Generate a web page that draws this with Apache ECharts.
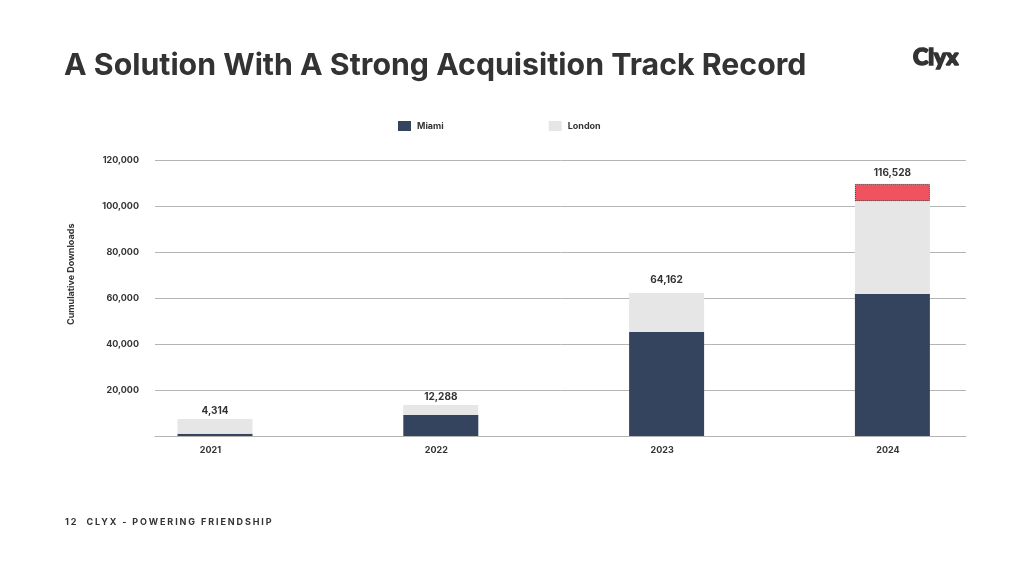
<!DOCTYPE html>
<html>
<head>
<meta charset="utf-8">
<script src="https://cdn.jsdelivr.net/npm/echarts@6/dist/echarts.min.js"></script>
<style>
html,body{margin:0;padding:0;background:#fff}
#chart{width:1024px;height:576px}
#footer{position:absolute;left:65px;top:516px;font:700 9px/12px Inter;color:#333;letter-spacing:1.9px;white-space:pre}
</style>
</head>
<body>
<div id="chart"></div>
<div id="footer">12  CLYX - POWERING FRIENDSHIP</div>
<script>
var years = ['2021', '2022', '2023', '2024'];
var miami = [1000, 9100, 45300, 61800];
var london = [6400, 4400, 17000, 40500];
var extra = [0, 0, 0, 7500];
var totals = ['4,314', '12,288', '64,162', '116,528'];

var font = 'Inter';
var ink = '#333333';
var labelGap = [3, 3, 8, 6];

var chart = echarts.init(document.getElementById('chart'));
chart.setOption({
	animation: false,
	backgroundColor: '#ffffff',
	title: [
		{text: 'A Solution With A Strong Acquisition Track Record', left: 59, top: 46,
			textStyle: {fontFamily: font, fontSize: 30.3, fontWeight: 700, color: ink}},
		{text: 'Clyx', left: 908, top: 41,
			textStyle: {fontFamily: 'Lato', fontSize: 23, fontWeight: 900, color: ink, textBorderColor: ink, textBorderWidth: 1.6}}
	],
	legend: {
		data: ['Miami', 'London'],
		left: 393, top: 116,
		icon: 'rect',
		itemWidth: 13, itemHeight: 10, itemGap: 105,
		textStyle: {fontFamily: font, fontSize: 9, fontWeight: 700, color: ink, padding: [0, 0, 0, 1]}
	},
	grid: [
		// bars sit wider than the ruled lines, so they get their own grid
		{left: 102.1, width: 903.2, top: 160.5, height: 275.5},
		{left: 155, width: 811, top: 160.5, height: 275.5}
	],
	xAxis: [
		{type: 'category', gridIndex: 0, data: years,
			axisLine: {show: false}, axisTick: {show: false},
			axisLabel: {fontFamily: font, fontSize: 9, fontWeight: 700, color: ink, margin: 10, padding: [0, 9, 0, 0]}},
		{type: 'value', gridIndex: 1, min: 0, max: 1, show: true,
			splitLine: {show: false}, axisTick: {show: false}, axisLabel: {show: false},
			axisLine: {show: true, lineStyle: {color: '#b5b5b5', width: 1}}}
	],
	yAxis: [
		{type: 'value', gridIndex: 0, min: 0, max: 120000, interval: 20000, show: false},
		{type: 'value', gridIndex: 1, min: 0, max: 120000, interval: 20000,
			name: 'Cumulative Downloads', nameLocation: 'middle', nameGap: 79,
			nameTextStyle: {fontFamily: font, fontSize: 9, fontWeight: 700, color: ink, padding: [0, 0, 0, 48]},
			axisLine: {show: false}, axisTick: {show: false},
			splitLine: {lineStyle: {color: '#b5b5b5', width: 1}},
			axisLabel: {fontFamily: font, fontSize: 9, fontWeight: 700, color: ink, margin: 16,
				formatter: function (v) { return v === 0 ? '' : v.toLocaleString('en-US'); }}}
	],
	series: [
		{name: 'Miami', type: 'bar', stack: 'all', xAxisIndex: 0, yAxisIndex: 0, barWidth: 75,
			itemStyle: {color: '#34445f'}, data: miami},
		{name: 'London', type: 'bar', stack: 'all', xAxisIndex: 0, yAxisIndex: 0, barWidth: 75,
			itemStyle: {color: '#e6e6e6'}, data: london},
		{name: 'Extra', type: 'bar', stack: 'all', xAxisIndex: 0, yAxisIndex: 0, barWidth: 75,
			data: extra.map(function (v, i) {
				return {
					value: v,
					label: {distance: labelGap[i]},
					itemStyle: v ? {color: '#f0535f', borderColor: '#222', borderWidth: 1, borderType: 'dotted'}
						: {color: 'transparent', borderWidth: 0}
				};
			}),
			label: {show: true, position: 'top', fontFamily: font, fontSize: 10, fontWeight: 700, color: ink,
				formatter: function (p) { return totals[p.dataIndex]; }}}
	]
});
</script>
</body>
</html>
